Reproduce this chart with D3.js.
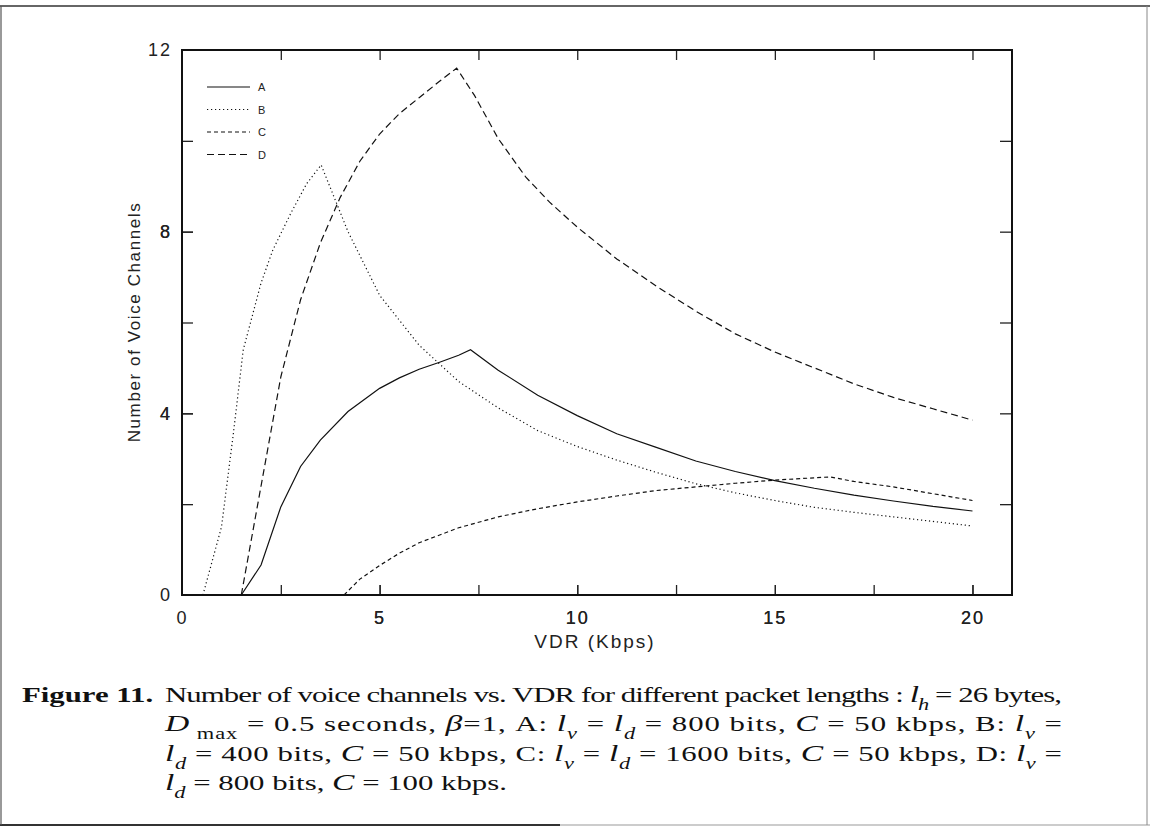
<!DOCTYPE html>
<html>
<head>
<meta charset="utf-8">
<script src="https://cdn.jsdelivr.net/npm/d3@7"></script>
<style>
  body { margin: 0; background: #fff; }
  svg { display: block; }
</style>
</head>
<body>
<script>
// values (x = VDR in Kbps, y = number of voice channels)
const seriesNames = ["A", "B", "C", "D"];
const dashStyles = ["none", "1.2,2.8", "4,3", "7,4"];

const curveA = [[1.5,0],[2,0.66],[2.5,1.94],[3,2.83],[3.5,3.41],[4.2,4.04],[5,4.55],[5.5,4.78],[6,4.97],[6.5,5.12],[7,5.28],[7.3,5.4],[8,4.95],[9,4.4],[10,3.95],[11,3.55],[12,3.25],[13,2.95],[14,2.72],[15,2.52],[16,2.35],[17,2.2],[18,2.07],[19,1.95],[20,1.85]];
const curveB = [[0.53,0],[1,1.5],[1.3,3.56],[1.55,5.4],[2,6.87],[2.3,7.6],[2.75,8.4],[3.15,9.05],[3.52,9.47],[4.2,8.0],[5,6.6],[6,5.5],[7,4.7],[8,4.12],[9,3.62],[10,3.27],[11,2.97],[12,2.7],[13,2.45],[14,2.25],[15,2.08],[16,1.93],[17,1.82],[18,1.72],[19,1.62],[20,1.52]];
const curveC = [[4.1,0],[4.5,0.35],[5,0.65],[5.5,0.92],[6,1.15],[7,1.48],[8,1.72],[9,1.9],[10,2.05],[11,2.18],[12,2.3],[13,2.38],[14,2.46],[15,2.53],[16,2.58],[16.4,2.6],[17,2.5],[18,2.38],[19,2.23],[20,2.08]];
const curveD = [[1.5,0],[2,2.4],[2.5,4.8],[3,6.5],[3.5,7.75],[4,8.75],[4.5,9.55],[5,10.15],[5.5,10.6],[6,10.95],[6.5,11.3],[6.95,11.6],[7.4,11.0],[8,10.05],[8.7,9.2],[9.3,8.65],[10,8.1],[11,7.4],[12,6.8],[13,6.25],[14,5.75],[15,5.35],[16,5.0],[17,4.65],[18,4.35],[19,4.1],[20,3.85]];
const curves = [curveA, curveB, curveC, curveD];

const xTicks = [2.5, 5, 7.5, 10, 12.5, 15, 17.5, 20];
const xLabels = [0, 5, 10, 15, 20];
const yTicks = [2, 4, 6, 8, 10];
const yLabels = [0, 4, 8, 12];

const W = 1150, H = 831;
const svg = d3.select("body").append("svg")
    .attr("width", W)
    .attr("height", H);

// page frame from the scan
svg.append("line").attr("x1", 0).attr("x2", W).attr("y1", 6).attr("y2", 6)
    .attr("stroke", "#333").attr("stroke-width", 1.5);
svg.append("line").attr("x1", 0).attr("x2", 560).attr("y1", 825).attr("y2", 825)
    .attr("stroke", "#333").attr("stroke-width", 2);
svg.append("line").attr("x1", 560).attr("x2", W).attr("y1", 825).attr("y2", 825)
    .attr("stroke", "#999").attr("stroke-width", 1);
svg.append("line").attr("x1", 1).attr("x2", 1).attr("y1", 6).attr("y2", 825)
    .attr("stroke", "#555").attr("stroke-width", 1.2);
svg.append("line").attr("x1", 1147).attr("x2", 1147).attr("y1", 6).attr("y2", 825)
    .attr("stroke", "#888").attr("stroke-width", 1);

const x = d3.scaleLinear().domain([0, 21]).range([182, 1012]);
const y = d3.scaleLinear().domain([0, 12]).range([595, 50]);

const plot = svg.append("g");

/************************** AXES ****************************************/
const tickFont = "'Liberation Sans', Arial, sans-serif";

// bottom: inward ticks, labels every 5
plot.append("g")
    .attr("transform", "translate(0," + y(0) + ")")
    .call(d3.axisBottom(x).tickValues(xLabels.concat(xTicks)).tickSize(-10).tickPadding(16)
        .tickFormat(d => xLabels.includes(d) ? d : ""))
    .call(g => g.select(".domain").remove())
    .call(g => g.selectAll(".tick line").filter(d => d === 0).remove());

// top: inward ticks, no labels
plot.append("g")
    .attr("transform", "translate(0," + y(12) + ")")
    .call(d3.axisTop(x).tickValues(xTicks).tickSize(-10).tickFormat(""))
    .call(g => g.select(".domain").remove());

// left: inward ticks, labels at 0 4 8 12
plot.append("g")
    .attr("transform", "translate(" + x(0) + ",0)")
    .call(d3.axisLeft(y).tickValues(yLabels.concat(yTicks)).tickSize(-11).tickPadding(10)
        .tickFormat(d => yLabels.includes(d) ? d : ""))
    .call(g => g.select(".domain").remove())
    .call(g => g.selectAll(".tick line").filter(d => d === 0 || d === 12).remove());

// right: inward ticks only
plot.append("g")
    .attr("transform", "translate(" + x(21) + ",0)")
    .call(d3.axisRight(y).tickValues(yTicks).tickSize(-12).tickFormat(""))
    .call(g => g.select(".domain").remove());

plot.selectAll(".tick line").attr("stroke", "#222").attr("stroke-width", 1.3);
plot.selectAll(".tick text")
    .attr("font-family", tickFont)
    .attr("font-size", 18)
    .attr("letter-spacing", 2)
    .attr("fill", "#222");

// plot box
plot.append("rect")
    .attr("x", x(0)).attr("y", y(12))
    .attr("width", x(21) - x(0)).attr("height", y(0) - y(12))
    .attr("fill", "none")
    .attr("stroke", "#111")
    .attr("stroke-width", 2);

// axis titles
svg.append("text")
    .attr("x", 595).attr("y", 648)
    .attr("text-anchor", "middle")
    .attr("font-family", tickFont)
    .attr("font-size", 19)
    .attr("letter-spacing", 2)
    .attr("fill", "#222")
    .text("VDR (Kbps)");

svg.append("text")
    .attr("transform", "translate(140,322) rotate(-90)")
    .attr("text-anchor", "middle")
    .attr("font-family", tickFont)
    .attr("font-size", 17)
    .attr("letter-spacing", 1.6)
    .attr("fill", "#222")
    .text("Number of Voice Channels");

/************************** CURVES ****************************************/
const line = d3.line().x(d => x(d[0])).y(d => y(d[1]));

plot.selectAll(".curve")
    .data(curves)
    .enter().append("path")
    .attr("class", "curve")
    .attr("d", line)
    .attr("fill", "none")
    .attr("stroke", "#111")
    .attr("stroke-width", 1.2)
    .attr("stroke-dasharray", (d, i) => dashStyles[i]);

// legend
const legend = plot.selectAll(".legend")
    .data(seriesNames)
    .enter().append("g")
    .attr("class", "legend")
    .attr("transform", (d, i) => "translate(207," + (87 + i * 22.5) + ")");

legend.append("line")
    .attr("x1", 0).attr("x2", 43)
    .attr("stroke", "#111")
    .attr("stroke-width", 1.2)
    .attr("stroke-dasharray", (d, i) => dashStyles[i]);

legend.append("text")
    .attr("x", 51).attr("y", 4)
    .attr("font-family", tickFont)
    .attr("font-size", 11)
    .attr("fill", "#222")
    .text(d => d);

/************************** CAPTION ****************************************/
// the scanned caption is stretched sideways, so the whole block is scaled in x
const serif = "'Liberation Serif', 'Times New Roman', serif";
const stretch = 1.4;
const caption = svg.append("g").attr("transform", "scale(" + stretch + ",1)");

caption.append("text")
    .attr("x", 22 / stretch).attr("y", 702)
    .attr("font-family", serif)
    .attr("font-size", 22)
    .attr("font-weight", "bold")
    .attr("fill", "#111")
    .text("Figure 11.");

// each line is a list of [text, style] pieces; style: "" roman, "i" italic, "s" subscript
const captionLines = [
    [["Number of voice channels vs. VDR for different packet lengths :  ", ""], ["l", "i"], ["h", "s"], [" =  26 bytes,", ""]],
    [["D", "i"], [" max", "s"], ["  =  0.5 seconds, ", ""], ["β", "i"], ["=1, A: ", ""], ["l", "i"], ["v", "s"], [" =  ", ""], ["l", "i"], ["d", "s"], [" =  800 bits, ", ""], ["C", "i"], [" = 50 kbps, B: ", ""], ["l", "i"], ["v", "s"], [" =", ""]],
    [["l", "i"], ["d", "s"], [" =  400 bits, ", ""], ["C", "i"], [" = 50 kbps, C: ", ""], ["l", "i"], ["v", "s"], [" =  ", ""], ["l", "i"], ["d", "s"], [" =  1600 bits, ", ""], ["C", "i"], [" = 50 kbps, D: ", ""], ["l", "i"], ["v", "s"], [" =", ""]],
    [["l", "i"], ["d", "s"], [" =  800 bits, ", ""], ["C", "i"], [" = 100 kbps.", ""]]
];
const captionWidths = [897, 897, 897, null];

captionLines.forEach((pieces, li) => {
    const t = caption.append("text")
        .attr("x", 165 / stretch)
        .attr("y", 702 + li * 29.3)
        .attr("font-family", serif)
        .attr("font-size", 22)
        .attr("fill", "#111");
    let shifted = false;
    pieces.forEach(p => {
        const ts = t.append("tspan").text(p[0]);
        if (p[1] === "i") ts.attr("font-style", "italic").attr("font-size", 24);
        if (p[1] === "s") {
            ts.attr("font-size", 16).attr("font-style", p[0].trim() === "max" ? "normal" : "italic").attr("dy", 8);
            shifted = true;
        } else if (shifted) {
            ts.attr("dy", -8);
            shifted = false;
        }
    });
    if (captionWidths[li]) t.attr("textLength", captionWidths[li] / stretch).attr("lengthAdjust", "spacing");
});
</script>
</body>
</html>
